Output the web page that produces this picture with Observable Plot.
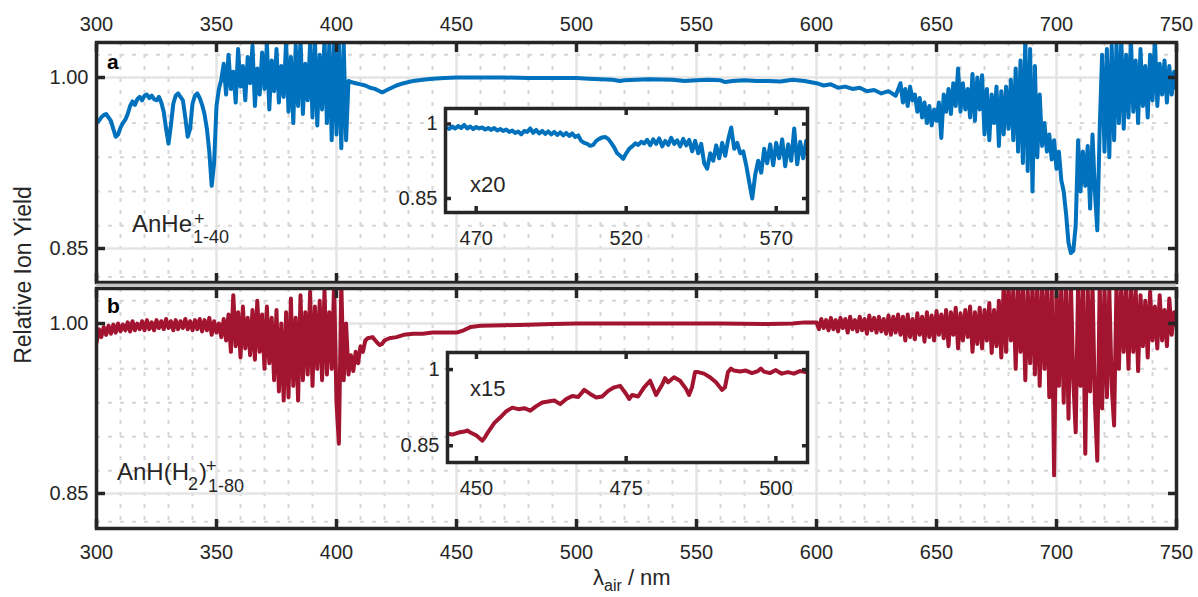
<!DOCTYPE html>
<html><head><meta charset="utf-8">
<script src="https://cdn.jsdelivr.net/npm/d3@7"></script>
<script src="https://cdn.jsdelivr.net/npm/@observablehq/plot@0.6"></script>
<style>
body{margin:0;background:#fff;}
#fig{position:relative;width:1198px;height:597px;overflow:hidden;background:#fff;}
</style></head>
<body><div id="fig"></div>
<script>
// ---------- data (wavelength nm, relative ion yield) ----------
const xTicks = [300,350,400,450,500,550,600,650,700,750];
const yTicks = [0.85, 1.00];
const yMinor = [0.825, 0.87, 0.90, 0.93, 0.96, 1.02];
const insetATicks = [470, 520, 570];
const insetBTicks = [450, 475, 500];
const insetYTicks = [0.85, 1];

const yieldA = [
[300,.960],[301,.962],[302,.965],[303,.967],[304,.968],[305,.965],[306,.962],[307,.955],[308,.948],[309,.950],
[310,.956],[311,.960],[312,.963],[313,.968],[314,.975],[315,.979],[316,.976],[317,.981],[318,.983],[319,.980],
[320,.984],[321,.985],[322,.982],[323,.984],[324,.981],[325,.980],[326,.983],[327,.978],[328,.970],[329,.955],
[330,.942],[331,.958],[332,.977],[333,.984],[334,.986],[335,.983],[336,.980],[337,.965],[338,.948],[339,.955],
[340,.977],[341,.984],[342,.986],[343,.982],[344,.976],[345,.968],[346,.955],[347,.935],[348,.905],[349,.925],
[350,.975],[351,.990],[352,.998],
[353,1.012],[354,.985],[355,1.020],[356,.990],[357,1.005],[358,.978],[359,1.025],[360,.992],[361,1.010],[362,.980],
[363,1.018],[364,.995],[365,1.028],[366,.975],[367,1.008],[368,.985],[369,1.022],[370,.990],[371,1.030],[372,.972],
[373,1.015],[374,.988],[375,1.025],[376,.978],[377,1.010],[378,.983],[379,1.032],[380,.970],[381,1.018],[382,.960],
[383,1.028],[384,.975],[385,1.035],[386,.968],[387,1.012],[388,.980],[389,1.030],[390,.965],[391,1.035],[392,.958],
[393,1.020],[394,.972],[395,1.035],[396,.960],[397,1.030],[398,.945],[399,1.035],[400,.950],[401,1.032],[402,.938],
[403,1.030],[404,.945],
[405,.997],[406,.996],[408,.995],[410,.994],[412,.993],[414,.991],[416,.990],[418,.988],[419,.987],[420,.988],
[421,.989],[423,.991],[425,.993],[428,.995],[432,.997],[436,.998],[440,.999],[445,.9995],[450,1.000],[460,1.000],
[470,1.000],[480,.9995],[490,.9995],[500,.9995],[505,.999],[510,.9985],[515,.998],[518,.997],[520,.9975],[525,.998],
[530,.9985],[540,.998],[545,.997],[550,.9975],[555,.998],[560,.9975],[562,.996],[565,.997],[570,.9975],[575,.997],
[580,.997],[585,.9965],[590,.998],[595,.997],[600,.995],[603,.993],[606,.994],[609,.991],[612,.992],[615,.990],
[618,.991],[621,.988],[624,.989],[627,.986],[630,.988],[633,.984],
[635,.995],[636,.978],[637,.990],[638,.975],[639,.992],[640,.980],[641,.985],[642,.970],[643,.982],[644,.965],
[645,.978],[646,.960],[647,.975],[648,.958],[649,.972],[650,.962],[651,.978],[652,.947],[653,.985],[654,.970],
[655,.990],[656,.968],[657,.995],[658,.975],[659,1.008],[660,.970],[661,.995],[662,.972],[663,.990],[664,.965],
[665,1.003],[666,.962],[667,1.000],[668,.972],[669,1.002],[670,.950],[671,.990],[672,.945],[673,.985],[674,.960],
[675,.992],[676,.940],[677,.988],[678,.950],[679,.992],[680,.955],[681,.998],[682,.945],[683,1.008],[684,.935],
[685,1.015],[686,.925],[687,1.035],[688,.918],[689,1.025],[690,.900],[691,1.010],[692,.930],[693,.985],[694,.940],
[695,.960],[696,.935],[697,.950],[698,.928],[699,.945],[700,.920],[701,.935],[702,.910],[703,.900],[704,.880],
[705,.855],[706,.846],[707,.848],[708,.870],[709,.945],[710,.900],[711,.935],[712,.905],[713,.940],[714,.885],
[715,.950],[716,.900],[717,.866],[718,.955],[719,1.020],[720,.935],[721,1.025],[722,.930],[723,1.028],[724,.945],
[725,1.030],[726,.960],[727,1.035],[728,.955],[729,1.020],[730,.965],[731,1.035],[732,.970],[733,1.015],[734,.960],
[735,1.025],[736,.975],[737,1.010],[738,.965],[739,1.020],[740,.980],[741,1.035],[742,.975],[743,1.012],[744,.985],
[745,1.015],[746,.978],[747,1.010],[748,.985],[749,1.005],[750,.990]
];

const yieldB = [
[300,.983],[301,.995],[302,.988],[303,.997],[304,.990],[305,.998],[306,.991],[307,.999],[308,.992],[309,1.000],
[310,.993],[311,.999],[312,.994],[313,1.001],[314,.993],[315,1.002],[316,.994],[317,1.000],[318,.995],[319,1.002],
[320,.994],[321,1.003],[322,.995],[323,1.001],[324,.994],[325,1.003],[326,.996],[327,1.002],[328,.995],[329,1.004],
[330,.996],[331,1.002],[332,.994],[333,1.003],[334,.995],[335,1.002],[336,.996],[337,1.004],[338,.995],[339,1.002],
[340,.994],[341,1.003],[342,.995],[343,1.004],[344,.993],[345,1.003],[346,.994],[347,1.005],[348,.990],[349,1.002],
[350,.992],[351,1.000],[352,.988],[353,1.004],[354,.985],[355,1.008],[356,.975],[357,1.025],[358,.980],[359,1.010],
[360,.970],[361,1.015],[362,.978],[363,1.005],[364,.972],[365,1.012],[366,.968],[367,1.020],[368,.975],[369,1.008],
[370,.960],[371,1.015],[372,.965],[373,1.005],[374,.950],[375,1.012],[376,.940],[377,1.000],[378,.932],[379,1.010],
[380,.935],[381,1.022],[382,.945],[383,1.005],[384,.932],[385,1.025],[386,.950],[387,1.010],[388,.955],[389,1.028],
[390,.945],[391,1.015],[392,.960],[393,1.020],[394,.950],[395,1.030],[396,.955],[397,1.010],[398,.960],[399,1.035],
[400,.930],[401,.894],[402,1.035],[403,.950],[404,1.000],[405,.955],[406,.972],[407,.958],[408,.975],[409,.965],
[410,.980],[411,.975],[412,.985],[413,.987],[415,.988],[417,.983],[418,.981],[419,.982],[420,.985],[422,.987],
[425,.988],[428,.990],[432,.991],[436,.991],[440,.992],[445,.992],[450,.992],[453,.994],[456,.997],[460,.998],
[470,.9985],[480,.999],[490,.9995],[500,1.000],[520,1.000],[540,1.000],[560,1.000],[580,.9995],[590,1.000],[595,1.001],
[600,1.001],[601,.995],[602,1.004],[603,.996],[604,1.003],[605,.994],[606,1.005],[607,.995],[608,1.003],[609,.993],
[610,1.005],[611,.996],[612,1.004],[613,.992],[614,1.006],[615,.995],[616,1.003],[617,.993],[618,1.006],[619,.994],
[620,1.004],[621,.991],[622,1.007],[623,.994],[624,1.005],[625,.992],[626,1.006],[627,.993],[628,1.004],[629,.991],
[630,1.007],[631,.990],[632,1.006],[633,.992],[634,1.008],
[635,.990],[636,1.006],[637,.985],[638,1.008],[639,.988],[640,1.004],[641,.986],[642,1.009],[643,.990],[644,1.006],
[645,.984],[646,1.010],[647,.988],[648,1.007],[649,.985],[650,1.011],[651,.990],[652,1.008],[653,.987],[654,1.012],
[655,.980],[656,1.010],[657,.990],[658,1.014],[659,.978],[660,1.009],[661,.985],[662,1.012],[663,.988],[664,1.015],
[665,.975],[666,1.010],[667,.982],[668,1.014],[669,.978],[670,1.012],[671,.985],[672,1.018],[673,.974],[674,1.012],
[675,.980],[676,1.020],[677,.970],[678,1.035],[679,.975],[680,1.035],[681,.985],[682,1.030],[683,.960],[684,1.035],
[685,.975],[686,1.035],[687,.950],[688,1.030],[689,.965],[690,1.035],[691,.955],[692,1.035],[693,.945],[694,1.035],
[695,.960],[696,1.035],[697,.935],[698,1.035],[699,.866],[700,1.035],[701,.945],[702,1.035],[703,.930],[704,1.035],
[705,.916],[706,1.035],[707,.950],[708,.904],[709,1.035],[710,.945],[711,1.035],[712,.885],[713,1.035],[714,.940],
[715,1.035],[716,.930],[717,.879],[718,1.035],[719,.925],[720,1.035],[721,.935],[722,1.030],[723,.945],[724,.910],
[725,1.035],[726,.960],[727,1.035],[728,.975],[729,1.030],[730,.960],[731,1.035],[732,.975],[733,1.030],[734,.958],
[735,1.025],[736,.980],[737,1.020],[738,.970],[739,1.028],[740,.985],[741,1.015],[742,.978],[743,1.025],[744,.985],
[745,1.012],[746,.980],[747,1.022],[748,.990],[749,1.010],[750,.998]
];

// inset a: 460-580 nm, deviation magnified x20
const insetA = [
[460,.993],[461,.990],[462,.995],[463,.991],[464,.996],[465,.992],[466,.998],[467,.991],[468,.995],[469,.990],
[470,.994],[471,.991],[472,.993],[473,.989],[474,.992],[475,.988],[476,.992],[477,.987],[478,.990],[479,.986],
[480,.989],[481,.984],[482,.987],[483,.982],[484,.985],[485,.979],[486,.986],[487,.984],[488,.991],[489,.982],
[490,.988],[491,.981],[492,.986],[493,.980],[494,.985],[495,.979],[496,.984],[497,.978],[498,.983],[499,.977],
[500,.982],[501,.976],[502,.981],[503,.974],[504,.977],[505,.966],[506,.962],[507,.960],[508,.956],[509,.958],
[510,.966],[511,.970],[512,.973],[513,.974],[514,.970],[515,.962],[516,.953],[517,.941],[518,.936],[519,.930],
[520,.941],[521,.950],[522,.955],[523,.961],[524,.958],[525,.964],[526,.961],[527,.968],[528,.957],[529,.969],
[530,.960],[531,.971],[532,.955],[533,.966],[534,.958],[535,.972],[536,.960],[537,.967],[538,.955],[539,.970],
[540,.957],[541,.968],[542,.945],[543,.966],[544,.941],[545,.960],[546,.921],[547,.910],[548,.941],[549,.926],
[550,.957],[551,.931],[552,.962],[553,.936],[554,.969],[555,.993],[556,.950],[557,.962],[558,.941],[559,.945],
[560,.917],[561,.883],[562,.850],[563,.898],[564,.926],[565,.902],[566,.950],[567,.921],[568,.959],[569,.917],
[570,.962],[571,.931],[572,.969],[573,.915],[574,.959],[575,.926],[576,.991],[577,.919],[578,.964],[579,.931],
[580,.966]
];

// inset b: 445-505 nm, deviation magnified x15
const insetB = [
[445,.874],[446,.872],[447,.876],[448,.878],[448.5,.880],[449,.876],[450,.870],[451,.860],[451.5,.868],[452,.878],
[453,.895],[454,.906],[455,.918],[456,.925],[457,.922],[458,.924],[459,.919],[460,.928],[461,.935],[462,.937],
[463,.939],[464,.932],[465,.942],[466,.948],[467,.946],[468,.960],[469,.952],[470,.945],[471,.947],[472,.958],
[473,.965],[474,.968],[475,.952],[475.5,.942],[476,.950],[477,.947],[478,.965],[479,.978],[480,.950],[481,.970],
[481.5,.983],[482,.975],[483,.985],[484,.978],[485,.962],[485.5,.950],[486,.965],[486.5,.995],[487,.995],[488,.992],
[489,.985],[490,.975],[491,.960],[491.5,.965],[492,.995],[492.5,1.002],[493,.998],[494,.996],[495,.998],[496,.993],
[497,.997],[497.5,1.002],[498,.996],[499,.993],[500,.999],[500.5,.995],[501,.992],[502,.995],[503,.992],[504,.997],
[505,.995]
];

// ---------- drawing ----------
const FONT = '"Liberation Sans", Arial, Helvetica, sans-serif';
const INK = "#262626";
const GRID = "#e4e4e4";
const GRID_MINOR = "#d6d6d6";
const BLUE = "#0072BD";
const RED = "#A2142F";
const xMinor = d3.range(310, 750, 10).filter(v => v % 50 !== 0);
const fig = document.getElementById("fig");

function place(el, left, top) {
  el.style.position = "absolute";
  el.style.left = left + "px";
  el.style.top = top + "px";
  fig.appendChild(el);
}

const baseStyle = {background: "transparent", fontFamily: FONT, color: INK, overflow: "visible"};

function mainPanel(series, color, yDomain, height, mt, mb, labelsOnTop) {
  const t = {stroke: INK, strokeWidth: 3.5, tickSize: -9, fontSize: 20, label: null};
  return Plot.plot({
    width: 1198, height, marginLeft: 96, marginRight: 22, marginTop: mt, marginBottom: mb,
    style: baseStyle,
    x: {domain: [300, 750]},
    y: {domain: yDomain},
    marks: [
      Plot.ruleX(xMinor, {stroke: GRID_MINOR, strokeWidth: 2, strokeDasharray: "4,8"}),
      Plot.ruleY(yMinor, {stroke: GRID_MINOR, strokeWidth: 2, strokeDasharray: "4,8"}),
      Plot.ruleX(xTicks, {stroke: GRID, strokeWidth: 2.5}),
      Plot.ruleY(yTicks, {stroke: GRID, strokeWidth: 2.5}),
      Plot.line(series, {x: d => d[0], y: d => d[1], stroke: color, strokeWidth: 4, clip: true}),
      Plot.frame({stroke: INK, strokeWidth: 3.5}),
      Plot.axisX({...t, ticks: xTicks, anchor: "top", tickPadding: 21, tickFormat: labelsOnTop ? d => String(d) : () => ""}),
      Plot.axisX({...t, ticks: xTicks, anchor: "bottom", tickPadding: 25, tickFormat: labelsOnTop ? () => "" : d => String(d)}),
      Plot.axisY({...t, ticks: yTicks, anchor: "left", tickPadding: 17, tickFormat: d => d.toFixed(2)}),
      Plot.axisY({...t, ticks: yTicks, anchor: "right", tickFormat: () => ""})
    ]
  });
}

function insetPanel(series, color, xDomain, yDomain, ticks, w, h) {
  const t = {stroke: INK, strokeWidth: 3.5, tickSize: -6, fontSize: 20, label: null};
  return Plot.plot({
    width: 50 + w + 5, height: 5 + h + 40, marginLeft: 50, marginRight: 5, marginTop: 5, marginBottom: 40,
    style: baseStyle,
    x: {domain: xDomain},
    y: {domain: yDomain},
    marks: [
      Plot.frame({fill: "white"}),
      Plot.line(series, {x: d => d[0], y: d => d[1], stroke: color, strokeWidth: 4, clip: true}),
      Plot.frame({stroke: INK, strokeWidth: 3.5}),
      Plot.axisX({...t, ticks, anchor: "bottom", tickPadding: 24, tickFormat: d => String(d)}),
      Plot.axisX({...t, ticks, anchor: "top", tickFormat: () => ""}),
      Plot.axisY({...t, ticks: insetYTicks, anchor: "left", tickPadding: 14, tickFormat: d => (d === 1 ? "1" : "0.85")}),
      Plot.axisY({...t, ticks: insetYTicks, anchor: "right", tickFormat: () => ""})
    ]
  });
}

place(mainPanel(yieldA, BLUE, [0.8202, 1.0307], 290, 42, 8, true), 0, 0);
place(mainPanel(yieldB, RED, [0.8191, 1.0309], 314, 5, 69, false), 0, 283);
place(insetPanel(insetA, BLUE, [459.77, 580.43], [0.8218, 1.0312], insetATicks, 362, 104), 395, 103);
place(insetPanel(insetB, RED, [445.17, 505.28], [0.817, 1.0336], insetBTicks, 360, 110), 397, 347);

// ---------- text overlay ----------
const ov = d3.create("svg")
  .attr("width", 1198).attr("height", 597)
  .style("position", "absolute").style("left", "0px").style("top", "0px")
  .style("pointer-events", "none")
  .attr("font-family", FONT).attr("fill", INK);

ov.append("rect").attr("x", 96).attr("y", 283.6).attr("width", 1080).attr("height", 2.8).attr("fill", "#c4c4c4");

function txt(s, x, y, size, weight) {
  return ov.append("text").attr("x", x).attr("y", y).attr("font-size", size)
    .attr("font-weight", weight || "normal").attr("fill", weight ? "#000" : INK).text(s);
}
txt("a", 107, 69, 21, "bold");
txt("b", 107, 313, 21, "bold");
txt("AnHe", 132, 232, 24);
txt("+", 194, 225, 18);
txt("1-40", 193, 243, 18);
txt("AnH(H", 117, 480, 24);
txt("2", 188, 490, 18);
txt(")", 199, 480, 24);
txt("+", 206, 472, 18);
txt("1-80", 208, 492, 18);
txt("x20", 470, 192, 22);
txt("x15", 470, 396, 22);

ov.append("text").attr("transform", "translate(31,275) rotate(-90)")
  .attr("text-anchor", "middle").attr("font-size", 23).text("Relative Ion Yield");

const xl = ov.append("text").attr("x", 593).attr("y", 585).attr("font-size", 22);
xl.append("tspan").text("λ");
xl.append("tspan").attr("font-size", 16).attr("dy", 6).text("air");
xl.append("tspan").attr("dy", -6).text(" / nm");

fig.appendChild(ov.node());
</script>
</body></html>
